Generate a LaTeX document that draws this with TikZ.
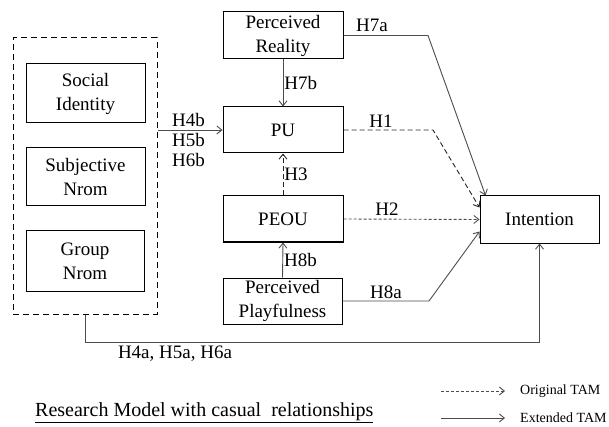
\documentclass[tikz,border=0pt]{standalone}
\usepackage{fontspec}
\setmainfont{Liberation Serif}
\usetikzlibrary{arrows.meta,calc}
\begin{document}
\begin{tikzpicture}[x=1pt,y=-1pt,
  every node/.style={font=\fontsize{19}{24}\selectfont},
  box/.style={draw=black,line width=1pt,minimum width=120pt,minimum height=46pt,align=center,inner sep=0pt},
  grpbox/.style={draw=black,line width=1pt,dash pattern=on 6pt off 4pt,minimum width=144pt,minimum height=276pt,inner sep=0pt},
  link/.style={draw=black!70,line width=0.9pt,-{Straight Barb[length=5pt,width=8pt]}},
  orig/.style={link,draw=black!85,dash pattern=on 5pt off 3pt},
  origfine/.style={link,dash pattern=on 3pt off 2pt},
  lbl/.style={inner sep=1pt},
  legtxt/.style={font=\fontsize{14}{16}\selectfont,anchor=west,inner sep=0pt}
]
\useasboundingbox (0,0) rectangle (609,427);

% group of social factors
\node[grpbox] (grp) at (85,176) {};
\node[box,minimum width=119pt,minimum height=59pt] (si) at (85.5,93.5) {Social\\Identity};
\node[box,minimum width=119pt,minimum height=58pt] (sn) at (85.5,177) {Subjective\\Nrom};
\node[box,minimum width=118pt,minimum height=60pt] (gn) at (85,261) {Group\\Nrom};

% central column
\node[box,minimum height=47pt] (pr) at (283,35.5) {Perceived\\Reality};
\node[box] (pu) at (283,130) {PU};
\node[box] (peou) at (283,219) {PEOU};
\node[box,minimum width=119pt] (pp) at (282.5,301) {Perceived\\Playfulness};

% outcome
\node[box,minimum width=119pt,minimum height=47pt] (int) at (539.5,219.5) {Intention};

% helper coordinates
\coordinate (h7a) at (428,35.5);
\coordinate (h1) at (433,130);
\coordinate (h8a) at (429,301);
\coordinate (intH7) at ($(int.north west)+(6,0)$);
\coordinate (intH1) at ($(int.north west)+(0,12)$);
\coordinate (intH8) at ($(int.north west)+(0,36)$);
\coordinate (grpdown) at ($(grp.south)+(0,28)$);

% connectors
\draw[link] (grp.east |- pu.west) -- (pu.west);
\node[lbl,anchor=north west,align=left] at (171,112) {H4b\\[-4pt]H5b\\[-4pt]H6b};

\draw[link] (pr.south) -- node[lbl,right]{H7b} (pu.north);
\draw[orig] (peou.north) -- node[lbl,right]{H3} (pu.south);
\draw[link] (pp.north) -- node[lbl,right]{H8b} (peou.south);

\draw[link] (pr.east) -- (h7a) -- (intH7);
\node[lbl] at (372,25) {H7a};
\draw[orig] (pu.east) -- (h1) -- (intH1);
\node[lbl] at (381,121) {H1};
\draw[origfine] (peou.east) -- (int.west);
\node[lbl] at (387,209) {H2};
\draw[link] (pp.east) -- (h8a) -- (intH8);
\node[lbl] at (386,292) {H8a};

\draw[link] (grp.south) -- (grpdown) -| (int.south);
\node[lbl] at (175,354) {H4a, H5a, H6a};

% title
\node[lbl,anchor=west,inner sep=0pt,font=\fontsize{20}{24}\selectfont] (title) at (35,413) {\underline{Research Model with casual\ \ relationships}};

% legend
\coordinate (l1a) at (441,391);
\coordinate (l1b) at (505,391);
\coordinate (l2a) at (441,418);
\coordinate (l2b) at (505,418);
\draw[origfine] (l1a) -- (l1b);
\node[legtxt] (leg1) at (520,391) {Original TAM};
\draw[link] (l2a) -- (l2b);
\node[legtxt] (leg2) at (520,418) {Extended TAM};
\end{tikzpicture}
\end{document}
